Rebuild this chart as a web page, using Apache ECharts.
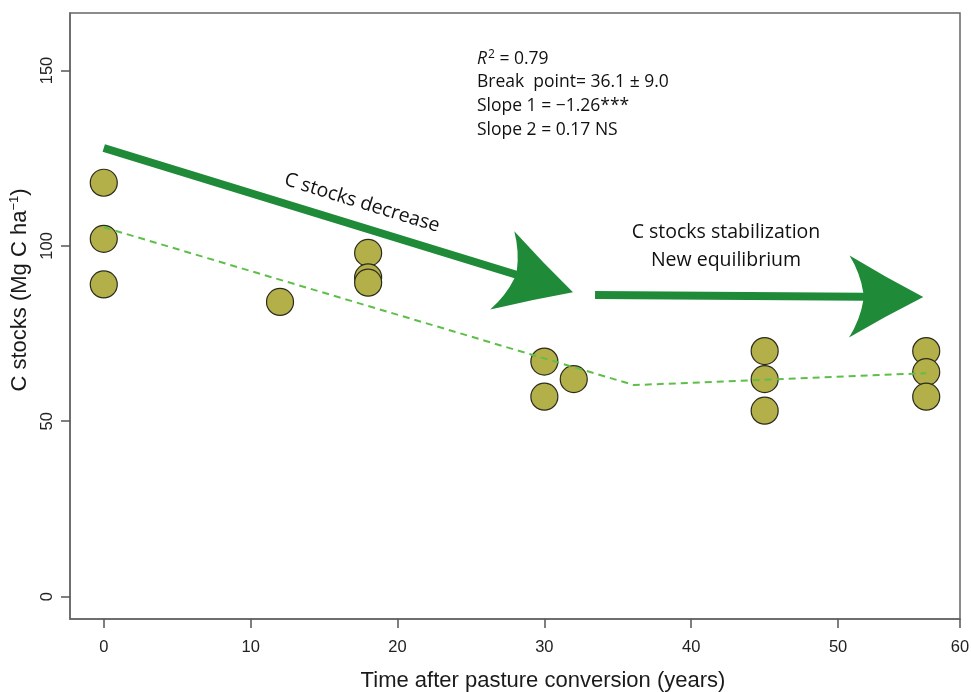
<!DOCTYPE html>
<html><head><meta charset="utf-8">
<script src="https://cdn.jsdelivr.net/npm/echarts@6/dist/echarts.min.js"></script>
<style>html,body{margin:0;padding:0;background:#fff}#c{width:971px;height:692px}</style>
</head><body><div id="c"></div>
<script>
// ---- data ----
const timeYears = [0, 0, 0, 12, 18, 18, 18, 30, 30, 32, 45, 45, 45, 56, 56, 56];
const cStocks   = [118, 102, 89, 84, 98, 91, 89.5, 67, 57, 62, 70, 62, 53, 70, 64, 57];
const fitX = [0, 36.1, 56];
const fitY = [105.3, 60.3, 63.7];
const arrowFrom = [[0, 127.9], [33.45, 86.0]];
const arrowTo   = [[31.95, 86.8], [55.8, 85.4]];
const xTickValues = [0, 10, 20, 30, 40, 50, 60];
const yTickValues = [0, 50, 100, 150];
const statLines = ['{it|R}{sup|2}{n| = 0.79}', 'Break  point= 36.1 ± 9.0', 'Slope 1 = \u22121.26***', 'Slope 2 = 0.17 NS'];
const trendLabels = ['C stocks decrease', 'C stocks stabilization', 'New equilibrium'];

const X_MIN = -2.3, X_MAX = 58.3, Y_MIN = -6.4, Y_MAX = 166.4;

const chart = echarts.init(document.getElementById('c'), null, {renderer: 'canvas'});

const xTickPos = xTickValues.map(v => Math.min(v, X_MAX));
const fmtX = v => { const i = xTickPos.findIndex(p => Math.abs(p - v) < 1e-6); return i >= 0 ? String(xTickValues[i]) : String(v); };

const ARROW_COLOR = '#1f8b39';
function renderArrow(params, api) {
  const p1 = api.coord([api.value(0), api.value(1)]);
  const p2 = api.coord([api.value(2), api.value(3)]);
  const dx = p2[0] - p1[0], dy = p2[1] - p1[1], L = Math.hypot(dx, dy);
  const ux = dx / L, uy = dy / L, nx = -uy, ny = ux;
  const hw = 4, headLen = 74, headHalf = 41, notch = 60;
  const P = (a, b) => [p2[0] - ux * a + nx * b, p2[1] - uy * a + ny * b];
  const f = p => p[0].toFixed(2) + ' ' + p[1].toFixed(2);
  const s1 = [p1[0] + nx * hw, p1[1] + ny * hw], s2 = [p1[0] - nx * hw, p1[1] - ny * hw];
  const j1 = P(notch, hw), j2 = P(notch, -hw);
  const b1 = P(headLen, headHalf), b2 = P(headLen, -headHalf);
  const c1 = P(63, 23), c2 = P(63, -23);
  const d1 = P(38, 19.5), d2 = P(38, -19.5);
  const path = 'M' + f(s1) + ' L' + f(j1) + ' Q' + f(c1) + ' ' + f(b1) +
    ' Q' + f(d1) + ' ' + f(p2) + ' Q' + f(d2) + ' ' + f(b2) +
    ' Q' + f(c2) + ' ' + f(j2) + ' L' + f(s2) + ' Z';
  return {type: 'path', shape: {pathData: path}, style: {fill: ARROW_COLOR}};
}

const FONT = 'Liberation Sans';
const AFONT = 'Open Sans';
const TXT = '#111';

const graphics = [];
statLines.forEach((t, i) => {
  graphics.push({
    type: 'text', left: 477, top: 49 + i * 24, z: 10,
    style: {
      text: t, fontFamily: AFONT, fontSize: 17.5, fill: TXT,
      rich: {
        it: {fontFamily: AFONT, fontSize: 17.5, fontStyle: 'italic', fill: TXT},
        sup: {fontFamily: AFONT, fontSize: 12, fill: TXT, padding: [0, 0, 9, 1]},
        n: {fontFamily: AFONT, fontSize: 17.5, fill: TXT}
      }
    }
  });
});
graphics.push({type: 'text', x: 362, y: 203, rotation: -0.2985, z: 10,
  style: {text: trendLabels[0], fontFamily: AFONT, fontSize: 19.5, fill: TXT, align: 'center', verticalAlign: 'middle'}});
graphics.push({type: 'text', x: 726, y: 232, z: 10,
  style: {text: trendLabels[1], fontFamily: AFONT, fontSize: 19.5, fill: TXT, align: 'center', verticalAlign: 'middle'}});
graphics.push({type: 'text', x: 726, y: 260, z: 10,
  style: {text: trendLabels[2], fontFamily: AFONT, fontSize: 19.5, fill: TXT, align: 'center', verticalAlign: 'middle'}});

const axisLineStyle = {color: '#666', width: 1.5};

chart.setOption({
  animation: false,
  backgroundColor: '#fff',
  grid: {left: 70, right: 11, top: 13, bottom: 73, show: true, borderColor: '#666', borderWidth: 1.5, containLabel: false, outerBoundsMode: 'none'},
  xAxis: {
    type: 'value', min: X_MIN, max: X_MAX,
    name: 'Time after pasture conversion (years)', nameLocation: 'middle', nameGap: 51,
    nameTextStyle: {fontFamily: FONT, fontSize: 22, color: '#1a1a1a', padding: [0, 0, 0, 56]},
    axisLine: {show: true, onZero: false, lineStyle: axisLineStyle},
    axisTick: {show: true, length: 9, customValues: xTickPos, lineStyle: {color: '#555', width: 1.5}},
    axisLabel: {customValues: xTickPos, formatter: fmtX, margin: 20, fontFamily: FONT, fontSize: 16.5, color: '#222', hideOverlap: false},
    splitLine: {show: false}
  },
  yAxis: {
    type: 'value', min: Y_MIN, max: Y_MAX,
    name: 'C stocks (Mg C ha{sup|\u22121})', nameLocation: 'middle', nameGap: 30,
    nameTextStyle: {fontFamily: FONT, fontSize: 22, color: '#1a1a1a', padding: [0, 0, 0, 52],
      rich: {sup: {fontFamily: FONT, fontSize: 13, color: '#1a1a1a', padding: [0, 0, 12, 0]}}},
    axisLine: {show: true, onZero: false, lineStyle: axisLineStyle},
    axisTick: {show: true, length: 9, customValues: yTickValues, lineStyle: {color: '#555', width: 1.5}},
    axisLabel: {customValues: yTickValues, rotate: 90, margin: 14, fontFamily: FONT, fontSize: 16.5, color: '#222', hideOverlap: false},
    splitLine: {show: false}
  },
  graphic: graphics,
  series: [
    {
      type: 'custom', name: 'trend arrows', z: 3,
      renderItem: renderArrow,
      encode: {x: [0, 2], y: [1, 3]},
      data: arrowFrom.map((p, i) => [p[0], p[1], arrowTo[i][0], arrowTo[i][1]])
    },
    {
      type: 'scatter', name: 'C stocks', z: 4,
      symbol: 'circle', symbolSize: 27,
      itemStyle: {color: '#b3b04a', borderColor: '#2b2b1c', borderWidth: 1.2, opacity: 1},
      data: timeYears.map((t, i) => [t, cStocks[i]])
    },
    {
      type: 'line', name: 'piecewise fit', z: 5,
      symbol: 'none',
      lineStyle: {color: '#5dbf48', width: 2, type: [7, 5]},
      data: fitX.map((x, i) => [x, fitY[i]])
    }
  ]
});
</script>
</body></html>
